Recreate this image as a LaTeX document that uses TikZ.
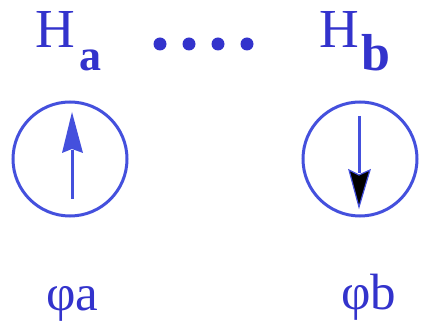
\documentclass[tikz,border=0pt]{standalone}
\usepackage{fontspec}
\setmainfont{Liberation Serif}
\definecolor{txtblue}{RGB}{51,51,204}
\definecolor{lineblue}{RGB}{68,80,221}
\begin{document}
\begin{tikzpicture}[x=1pt,y=-1pt,
  spin/.style={circle,draw=lineblue,line width=3pt,minimum size=114pt,inner sep=0pt},
  lbl/.style={anchor=base west,inner sep=0pt,text=txtblue},
  shaft/.style={draw=lineblue,line width=3pt},
  dotc/.style={circle,fill=txtblue,inner sep=0pt,minimum size=13pt}]
\useasboundingbox (0,0) rectangle (421,323);
% titles
\node[lbl,font=\fontsize{55}{60}\selectfont] (Ha) at (35,48) {H};
\node[lbl,font=\fontsize{44}{48}\selectfont\bfseries] (sa) at (79,71) {a};
\node[lbl,font=\fontsize{55}{60}\selectfont] (Hb) at (319,48) {H};
\node[lbl,font=\fontsize{52}{56}\selectfont\bfseries] (sb) at (361,71) {b};
\foreach \i/\x in {1/160,2/189,3/218,4/247}
  \node[dotc] (d\i) at (\x,44) {};
% circles
\node[spin] (ca) at (70,159) {};
\node[spin] (cb) at (360,159) {};
% up arrow
\coordinate (ua0) at (72,199);
\coordinate (ua1) at (72,150);
\draw[shaft] (ua0) -- (ua1);
\fill[lineblue] (72,112) -- (83,153) -- (72,149) -- (62,153) -- cycle;
% down arrow
\coordinate (da0) at (359,116);
\coordinate (da1) at (359,173);
\draw[shaft] (da0) -- (da1);
\filldraw[fill=black,draw=lineblue,line width=1.2pt,line join=miter] (359,207) -- (370,170) -- (359,175) -- (349,170) -- cycle;
% phi labels
\node[lbl,font=\fontsize{51}{56}\selectfont] (pa) at (46,311) {φa};
\node[lbl,font=\fontsize{51}{56}\selectfont] (pb) at (341,310) {φb};
\end{tikzpicture}
\end{document}
